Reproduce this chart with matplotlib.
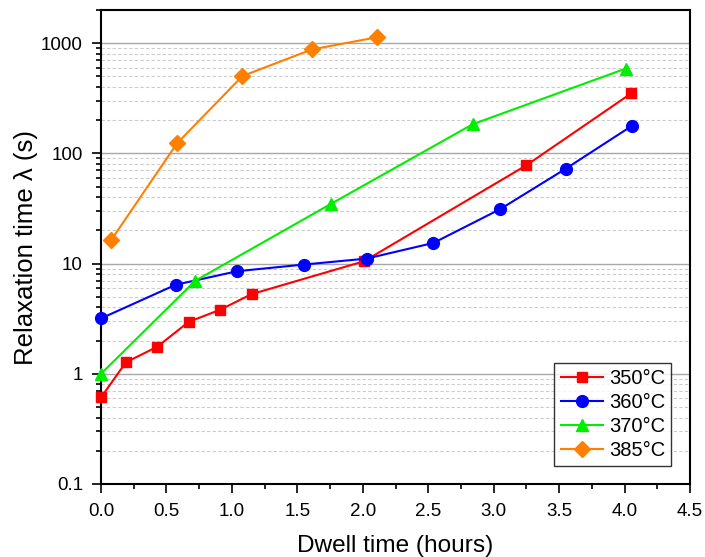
import matplotlib
matplotlib.use("Agg")
import matplotlib.pyplot as plt
from matplotlib.ticker import LogLocator, FuncFormatter, MultipleLocator, NullFormatter

plt.rcParams['font.family'] = ['Liberation Sans', 'DejaVu Sans']

# Data
t350 = [0.0, 0.19, 0.43, 0.67, 0.91, 1.15, 2.01, 3.25, 4.05]
l350 = [0.61, 1.27, 1.76, 2.96, 3.81, 5.28, 10.5, 78, 350]

t360 = [0.0, 0.57, 1.04, 1.55, 2.03, 2.54, 3.05, 3.55, 4.06]
l360 = [3.18, 6.42, 8.53, 9.8, 11.1, 15.4, 31.2, 72.5, 179]

t370 = [0.0, 0.72, 1.76, 2.84, 4.01]
l370 = [1.0, 6.98, 35, 184, 589]

t385 = [0.08, 0.58, 1.08, 1.61, 2.11]
l385 = [16.5, 123, 503, 877, 1133]

labels = ['350°C', '360°C', '370°C', '385°C']
colors = ['#ff0000', '#0000ff', '#00ee00', '#ff8000']

fig = plt.figure(figsize=(7.05, 5.57), dpi=100)
ax = fig.add_axes([0.1433, 0.1311, 0.8354, 0.8509])

ax.plot(t350, l350, '-s', color=colors[0], lw=1.5, ms=7.5, label=labels[0], clip_on=False, zorder=3)
ax.plot(t360, l360, '-o', color=colors[1], lw=1.5, ms=8.5, label=labels[1], clip_on=False, zorder=3)
ax.plot(t370, l370, '-^', color=colors[2], lw=1.5, ms=9, label=labels[2], clip_on=False, zorder=3)
ax.plot(t385, l385, '-D', color=colors[3], lw=1.5, ms=8, label=labels[3], clip_on=False, zorder=3)

ax.set_yscale('log')
ax.set_xlim(0, 4.5)
ax.set_ylim(0.1, 2000)

ax.xaxis.set_major_locator(MultipleLocator(0.5))
ax.xaxis.set_minor_locator(MultipleLocator(0.25))
ax.xaxis.set_major_formatter(FuncFormatter(lambda v, p: '%.1f' % v))
ax.yaxis.set_major_locator(LogLocator(base=10, numticks=10))
ax.yaxis.set_minor_locator(LogLocator(base=10, subs=range(2, 10), numticks=20))
ax.yaxis.set_major_formatter(FuncFormatter(lambda v, p: '%g' % v))
ax.yaxis.set_minor_formatter(NullFormatter())

ax.grid(True, axis='y', which='major', color='#a8a8a8', lw=1.0, ls='-')
ax.grid(True, axis='y', which='minor', color='#cccccc', lw=0.8, ls=(0, (3, 2)))
ax.set_axisbelow(True)

ax.tick_params(which='both', direction='out', top=False, right=False, width=1.2, labelsize=13.5)
ax.tick_params(which='major', length=6.5)
ax.tick_params(which='minor', length=3.5)
ax.tick_params(axis='x', which='major', pad=7)
ax.tick_params(axis='y', which='major', pad=6.5)
for s in ax.spines.values():
    s.set_linewidth(1.5)

ax.set_xlabel('Dwell time (hours)', fontsize=17.6, labelpad=11)
ax.set_ylabel('Relaxation time λ (s)', fontsize=18.5, labelpad=2)

leg = ax.legend(loc='lower right', bbox_to_anchor=(0.968, 0.038), fontsize=14.5, frameon=True,
                fancybox=False, edgecolor='black', borderpad=0.3, labelspacing=0.25,
                handlelength=2.1, handletextpad=0.3, borderaxespad=0)
leg.get_frame().set_linewidth(1.0)

fig.savefig('out.png', dpi=100)
